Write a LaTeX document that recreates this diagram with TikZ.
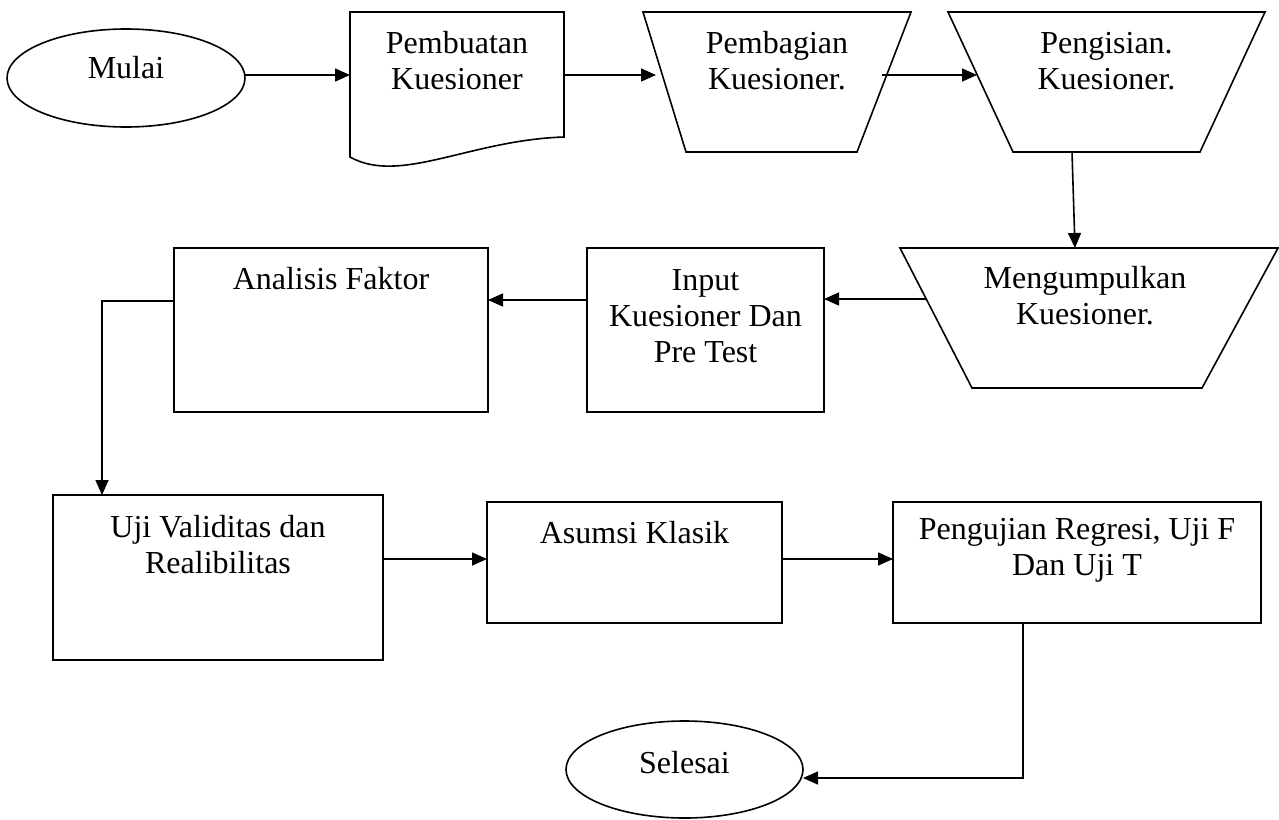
\documentclass[tikz,border=0pt]{standalone}
\usepackage{fontspec}
\setmainfont{Liberation Serif}
\usetikzlibrary{shapes.geometric,arrows.meta,calc}
\begin{document}
\begin{tikzpicture}[x=1pt,y=-1pt,
  box/.style={draw, rectangle, line width=1.6pt, inner sep=0pt, outer sep=0pt},
  term/.style={draw, ellipse, line width=1.6pt, inner sep=0pt, outer sep=0pt},
  frame/.style={rectangle, inner sep=0pt, outer sep=0pt},
  outline/.style={line width=1.6pt, line join=miter},
  txt/.style={font=\fontsize{32}{36}\selectfont, align=center, inner sep=0pt},
  arr/.style={line width=1.6pt, -{Triangle[length=15pt,width=13pt]}},
  con/.style={line width=1.6pt}]
\useasboundingbox (0,0) rectangle (1279,819);
% terminals
\node[term, minimum width=238pt, minimum height=98pt] (mulai) at (126,78) {};
\node[txt] (tmulai) at (126,68) {Mulai};
\node[term, minimum width=237pt, minimum height=97pt] (sl) at (684.5,769.5) {};
\node[txt] (tsl) at (684.5,763) {Selesai};
% document shape
\node[frame, minimum width=214pt, minimum height=145pt] (doc) at (457,84.5) {};
\draw[outline] ([yshift=20pt]doc.south east) -- (doc.north east) -- (doc.north west) -- (doc.south west)
  .. controls ($(doc.south west)+(50,28)$) and ($(doc.south west)+(120,-17)$) .. ([yshift=20pt]doc.south east) -- cycle;
\node[txt] (tdoc) at (457,61) {Pembuatan\\Kuesioner};
% trapezoids (long side on top)
\node[frame, minimum width=268pt, minimum height=140pt] (pb) at (777,82) {};
\draw[outline] (pb.north west) -- (pb.north east) -- ([xshift=-54pt]pb.south east) -- ([xshift=43pt]pb.south west) -- cycle;
\node[txt] (tpb) at (777,61) {Pembagian\\Kuesioner.};
\node[frame, minimum width=317pt, minimum height=140pt] (pi) at (1106.5,82) {};
\draw[outline] (pi.north west) -- (pi.north east) -- ([xshift=-65pt]pi.south east) -- ([xshift=65pt]pi.south west) -- cycle;
\node[txt] (tpi) at (1106.5,61) {Pengisian.\\Kuesioner.};
\node[frame, minimum width=378pt, minimum height=140pt] (mk) at (1089,318) {};
\draw[outline] (mk.north west) -- (mk.north east) -- ([xshift=-76pt]mk.south east) -- ([xshift=72pt]mk.south west) -- cycle;
\node[txt] (tmk) at (1085,295.5) {Mengumpulkan\\Kuesioner.};
% boxes
\node[box, minimum width=237pt, minimum height=164pt] (in) at (705.5,330) {};
\node[txt] (tin) at (705.5,316) {Input\\Kuesioner Dan\\Pre Test};
\node[box, minimum width=314pt, minimum height=164pt] (af) at (331,330) {};
\node[txt] (taf) at (331,279) {Analisis Faktor};
\node[box, minimum width=330pt, minimum height=165pt] (uv) at (218,577.5) {};
\node[txt] (tuv) at (218,545) {Uji Validitas dan\\Realibilitas};
\node[box, minimum width=295pt, minimum height=121pt] (ak) at (634.5,562.5) {};
\node[txt] (tak) at (634.5,533) {Asumsi Klasik};
\node[box, minimum width=368pt, minimum height=121pt] (pr) at (1077,562.5) {};
\node[txt] (tpr) at (1077,550.5) {Pengujian Regresi, Uji F\\Dan Uji T};
% connector end points on slanted / offset edges
\coordinate (mkout) at ([xshift=26pt,yshift=19pt]mk.west);
\coordinate (inout) at ([yshift=30pt]in.west);
\coordinate (uvout) at ([yshift=18.5pt]uv.east);
\coordinate (akout) at ([yshift=3.5pt]ak.east);
\coordinate (mulaiout) at ([yshift=3pt]mulai.east);
% connectors
\draw[arr] (mulaiout) -- (mulaiout -| doc.west);
\draw[arr] ([yshift=9.5pt]doc.east) -- ([xshift=13pt,yshift=7pt]pb.west);
\draw[arr] ([xshift=-29pt,yshift=7pt]pb.east) -- ([xshift=29pt,yshift=7pt]pi.west);
\draw[arr] ([xshift=-34.5pt]pi.south) -- ([xshift=-14pt]mk.north);
\draw[arr] (mkout) -- (mkout -| in.east);
\draw[arr] (inout) -- (inout -| af.east);
\draw[arr] ([yshift=29pt]af.west) -| ([xshift=-116pt]uv.north);
\draw[arr] (uvout) -- (uvout -| ak.west);
\draw[arr] (akout) -- (akout -| pr.west);
\draw[arr] ([xshift=-54pt]pr.south) |- ([yshift=-8.5pt]sl.east);
\end{tikzpicture}
\end{document}
